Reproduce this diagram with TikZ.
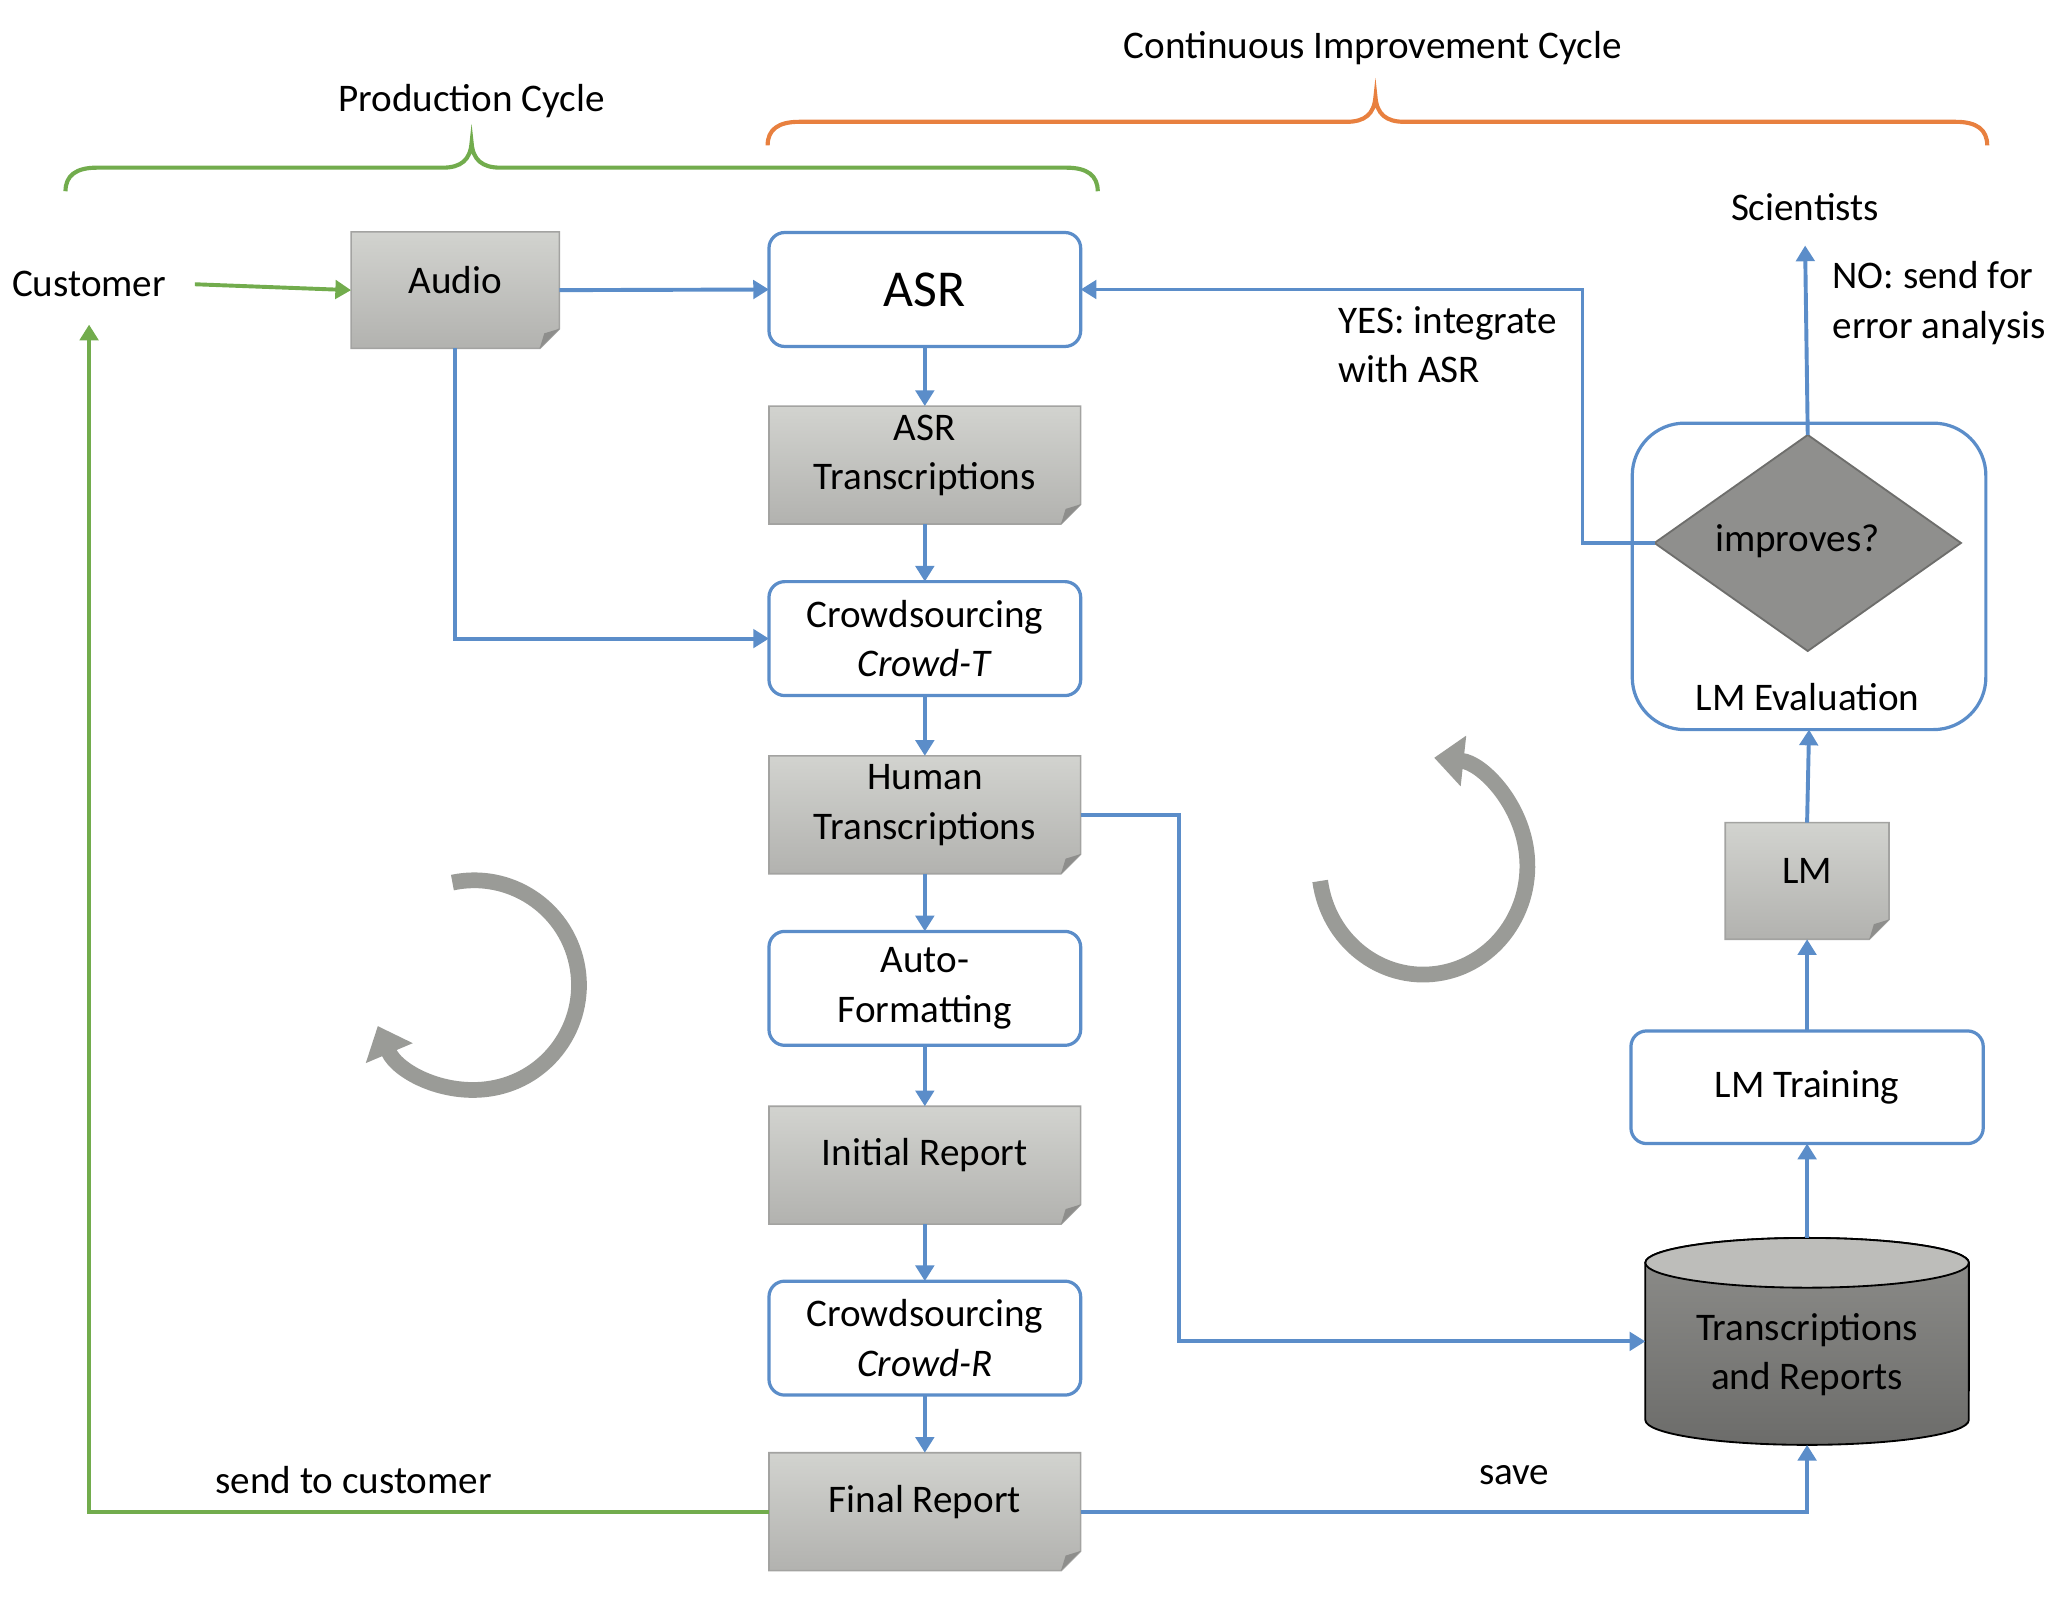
\documentclass[tikz,border=0pt]{standalone}
\usepackage{fontspec}
\setmainfont{Carlito}
\usetikzlibrary{arrows.meta,shapes.geometric,calc}
\definecolor{blueL}{HTML}{5B8DC9}
\definecolor{greenL}{HTML}{72AC4D}
\definecolor{orangeL}{HTML}{E8803F}
\definecolor{cycgray}{HTML}{9A9B97}
\definecolor{docTop}{HTML}{D2D3CF}
\definecolor{docBot}{HTML}{B2B2AF}
\definecolor{docBorder}{HTML}{A3A3A1}
\definecolor{foldGray}{HTML}{8E8E8C}
\definecolor{diaFill}{HTML}{8F8F8D}
\definecolor{diaBorder}{HTML}{6E6E6C}
\definecolor{cylTop}{HTML}{BDBDBA}
\definecolor{cylA}{HTML}{8E8E8B}
\definecolor{cylB}{HTML}{6C6C6A}
\newcommand{\docshape}[1]{%
  \draw[docBorder, line width=0.7pt, top color=docTop, bottom color=docBot]
    (#1.north west) -- (#1.north east) -- ([yshift=0.3cm]#1.south east)
    -- ([xshift=-0.3cm]#1.south east) -- (#1.south west) -- cycle;
  \fill[foldGray] ([yshift=0.3cm]#1.south east) -- ([xshift=-0.3cm]#1.south east)
    -- ([xshift=-0.23cm,yshift=0.23cm]#1.south east) -- cycle;
}
\begin{document}
\begin{tikzpicture}[x=0.02cm, y=-0.02cm,
  every node/.style={font=\fontsize{17pt}{21.5pt}\selectfont, inner sep=0pt, outer sep=0pt, align=center},
  rbox/.style={draw=blueL, line width=1.4pt, rounded corners=0.24cm, fill=white, minimum width=4.76cm, minimum height=1.74cm},
  dbox/.style={minimum width=4.76cm, minimum height=1.8cm},
  barrow/.style={blueL, line width=1.7pt, -{Triangle[width=0.28cm,length=0.24cm]}},
  garrow/.style={greenL, line width=1.7pt, -{Triangle[width=0.28cm,length=0.24cm]}},
  brace/.style={line width=1.8pt},
  cyc/.style={cycgray, line width=0.24cm, -{Triangle[width=0.75cm,length=0.45cm]}}]
\useasboundingbox (0,0) rectangle (1568,1218.4);

% braces
\draw[greenL, brace] (50,146) .. controls (50,134) and (58,128) .. (74,128) -- (338,128)
  .. controls (352,128) and (359,122) .. (360,109) .. controls (361,122) and (368,128) .. (382,128)
  -- (814,128) .. controls (830,128) and (838,134) .. (838,146);
\draw[orangeL, brace] (586,111) .. controls (586,99) and (594,93) .. (610,93) -- (1028,93)
  .. controls (1042,93) and (1049,87) .. (1050,74) .. controls (1051,87) and (1058,93) .. (1072,93)
  -- (1493,93) .. controls (1509,93) and (1517,99) .. (1517,111);
\node (prod) at (360,77) {Production Cycle};
\node (cont) at (1048,37) {Continuous Improvement Cycle};

% cycle arrows
\draw[cyc] (362,752) ++(102:1.6cm) arc[start angle=102, end angle=-157, radius=1.6cm];
\draw[cyc] (1086.5,661) ++(188:1.59cm and 1.66cm) arc[start angle=188, end angle=444, x radius=1.59cm, y radius=1.66cm];

% left / centre column
\node (customer) at (68,217) {Customer};
\node[dbox, minimum width=3.18cm, minimum height=1.78cm] (audio) at (347.5,221.5) {};
\node[rbox, font=\fontsize{22.5pt}{27pt}\selectfont] (asr) at (706,221) {ASR};
\node[dbox] (asrT) at (706,355) {};
\node[rbox] (crowdT) at (706,487.5) {Crowdsourcing\\\textit{Crowd-T}};
\node[dbox] (humanT) at (706,622) {};
\node[rbox] (autoF) at (706,754.5) {Auto-\\Formatting};
\node[dbox] (initR) at (706,889.5) {};
\node[rbox] (crowdR) at (706,1021.5) {Crowdsourcing\\\textit{Crowd-R}};
\node[dbox] (finalR) at (706,1154) {};

% right column
\node (scient) at (1378,158) {Scientists};
\node[draw=blueL, line width=1.4pt, rounded corners=0.8cm, minimum width=5.4cm, minimum height=4.68cm] (lmeval) at (1381,440) {};
\node[diamond, draw=diaBorder, fill=diaFill, line width=0.8pt, minimum width=4.68cm, minimum height=3.3cm] (diam) at (1380,414.5) {};
\node (diamT) at (1372,413) {improves?};
\node (lmevalT) at (1380,532) {LM Evaluation};
\node[dbox, minimum width=2.5cm, minimum height=1.78cm] (lm) at (1379.5,672.5) {};
\node[rbox, minimum width=5.38cm, minimum height=1.72cm] (lmtrain) at (1379.5,830) {LM Training};
\node[minimum width=4.94cm, minimum height=3.16cm] (db) at (1379.5,1024) {};

% document shapes
\docshape{audio}
\docshape{asrT}
\docshape{humanT}
\docshape{initR}
\docshape{finalR}
\docshape{lm}
\node (audioT) at ([yshift=0.15cm]audio.center) {Audio};
\node (asrTT) at ([yshift=0.15cm]asrT.center) {ASR\\Transcriptions};
\node (humanTT) at ([yshift=0.15cm]humanT.center) {Human\\Transcriptions};
\node (initRT) at ([yshift=0.15cm]initR.center) {Initial Report};
\node (finalRT) at ([yshift=0.15cm]finalR.center) {Final Report};
\node (lmT) at ([yshift=0.16cm]lm.center) {LM};

% cylinder
\draw[black, line width=0.8pt, top color=cylA, bottom color=cylB]
  (1256,964) -- (1256,1084) arc[start angle=180, end angle=360, x radius=2.47cm, y radius=0.38cm]
  -- (1503,964) arc[start angle=0, end angle=180, x radius=2.47cm, y radius=0.38cm] -- cycle;
\draw[black, line width=0.8pt, fill=cylTop] (1379.5,964) ellipse[x radius=2.47cm, y radius=0.38cm];
\node (dbT) at (1379.5,1034) {Transcriptions\\and Reports};

% connectors
\draw[garrow] ([xshift=0.44cm]customer.east) -- (audio.west);
\draw[barrow] (audio.east) -- (asr.west);
\draw[barrow] (audio.south) |- (crowdT.west);
\draw[barrow] (asr.south) -- (asrT.north);
\draw[barrow] (asrT.south) -- (crowdT.north);
\draw[barrow] (crowdT.south) -- (humanT.north);
\draw[barrow] (humanT.south) -- (autoF.north);
\draw[barrow] (autoF.south) -- (initR.north);
\draw[barrow] (initR.south) -- (crowdR.north);
\draw[barrow] (crowdR.south) -- (finalR.north);
\draw[barrow] (humanT.east) -- ++(75,0) |- (db.west);
\draw[barrow] (finalR.east) -| (db.south);
\draw[garrow] (finalR.west) -| ([yshift=-0.42cm]customer.south);
\draw[barrow] (db.north) -- (lmtrain.south);
\draw[barrow] (lmtrain.north) -- (lm.south);
\draw[barrow] (lm.north) -- (lmeval.south);
\draw[barrow] (diam.north) -- ([yshift=-0.38cm]scient.south);
\draw[barrow] (diam.west) -- ++(-55,0) |- (asr.east);

% labels
\node[align=left, anchor=west] (yes) at (1022,263) {YES: integrate\\with ASR};
\node[align=left, anchor=west] (no) at (1399,231.5) {NO: send for\\error analysis};
\node (save) at (1156,1126) {save};
\node (send) at (270,1130) {send to customer};
\end{tikzpicture}
\end{document}
